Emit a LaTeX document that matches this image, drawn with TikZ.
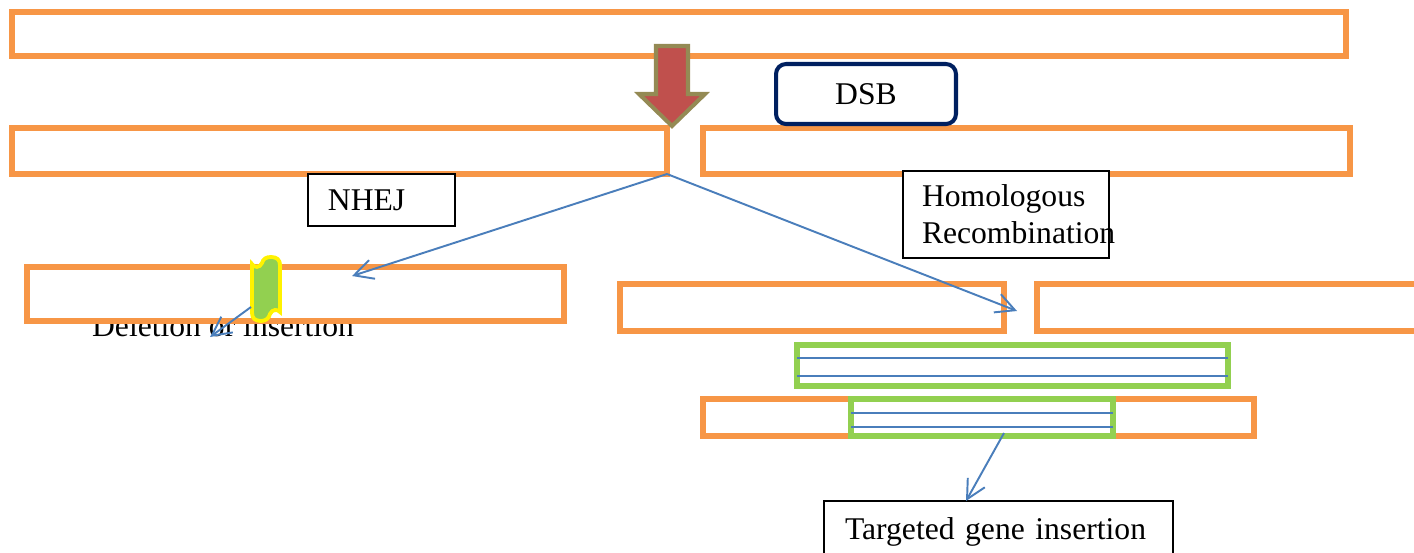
\documentclass[tikz,border=0pt]{standalone}
\usepackage{fontspec}
\setmainfont{Liberation Serif}
\usetikzlibrary{arrows.meta,fit}

\definecolor{strandorange}{HTML}{F79646}
\definecolor{donorgreen}{HTML}{92D050}
\definecolor{linkblue}{HTML}{4A7EBB}
\definecolor{cutred}{HTML}{C0504D}
\definecolor{cutolive}{HTML}{948A54}
\definecolor{dsbnavy}{HTML}{002060}

\newcommand\diagfont{\fontsize{18pt}{21pt}\selectfont}

\tikzset{
  strand/.style={draw=strandorange, line width=3pt, inner sep=0pt, outer sep=0pt},
  donor/.style={draw=donorgreen, line width=3pt, inner sep=0pt, outer sep=0pt},
  helix/.style={linkblue, line width=0.9pt},
  route/.style={linkblue, line width=1.1pt, -{Straight Barb[length=3.8mm,width=3.9mm]}},
  labelbox/.style={draw=black, line width=0.8pt, fill=white, align=left,
    anchor=north west, outer sep=0pt, font=\diagfont},
}

\begin{document}
\begin{tikzpicture}[x=0.02cm, y=-0.02cm]
  \useasboundingbox (0,0) rectangle (1414,552);

  % Intact DNA
  \node[strand, fit={(12,12) (1346,56)}] (dna) {};

  % Cut DNA after the double strand break
  \node[strand, fit={(12,128) (667,174)}] (cutleft) {};
  \node[strand, fit={(703,128) (1350,174)}] (cutright) {};

  % Break arrow
  \filldraw[fill=cutred, draw=cutolive, line width=2.3pt, line join=miter]
    (656,46) -- (688,46) -- (688,94) -- (705,94) -- (672,126) -- (639,94) -- (656,94) -- cycle;

  \node[draw=dsbnavy, line width=2.3pt, rounded corners=0.2cm, fill=white,
    minimum width=3.6cm, minimum height=1.2cm, inner sep=0pt, font=\diagfont] (dsb) at (866,94) {DSB};

  % Repair pathways
  \node[labelbox, minimum width=2.94cm, minimum height=1.04cm, inner xsep=0.4cm,
    text width=2.14cm] (nhej) at (308,174) {NHEJ};
  \node[labelbox, minimum width=4.12cm, minimum height=1.74cm, inner xsep=0.38cm,
    text width=3.36cm] (hr) at (903,171) {Homologous\\\mbox{Recombination}};

  % - NHEJ product (label cut off by its box)
  \begin{scope}
    \clip (0,322) rectangle (600,360);
    \node[font=\diagfont, anchor=base] (indeltext) at (223,336) {Deletion or insertion};
  \end{scope}
  \node[strand, fit={(27,267) (564,321)}] (nhejdna) {};
  \filldraw[fill=donorgreen, draw=yellow, line width=2.2pt]
    (252,264) .. controls (254,268) and (260,268) .. (262,263)
    .. controls (263,259) and (266,257) .. (271,257)
    .. controls (277,257) and (280,260) .. (280,265)
    -- (280,312)
    .. controls (278,309) and (272,309) .. (270,314)
    .. controls (269,318) and (266,321) .. (261,321)
    .. controls (255,321) and (252,318) .. (252,313) -- cycle;
  \coordinate (indelout) at (251,307);
  \coordinate (indeltip) at (210,337);

  % - HR template and product
  \node[strand, fit={(620,284) (1004,331)}] (hrleft) {};
  \node[strand, fit={(1037,284) (1440,331)}] (hrright) {};
  \node[donor, fit={(797,345) (1228,386)}] (template) {};
  \foreach \y in {358,376}
    \draw[helix] (797,\y) -- (1228,\y);
  \node[strand, fit={(703,399) (1254,436)}] (hrdna) {};
  \node[donor, fit={(851,399) (1113,436)}] (insert) {};
  \foreach \y in {413,427}
    \draw[helix] (851,\y) -- (1113,\y);

  \node[labelbox, minimum width=6.98cm, minimum height=1.22cm, inner xsep=0.42cm,
    text width=6.14cm] (targeted) at (824,501) {Targeted gene insertion};

  % Connectors
  \coordinate (nhejtip) at (352,276);
  \coordinate (hrtip) at (1017,311);
  \coordinate (insertout) at (1004,433);
  \draw[route] (cutleft.south east) -- (nhejtip);
  \draw[route] (cutleft.south east) -- (hrtip);
  \draw[route] (indelout) -- (indeltip);
  \draw[route] (insertout) -- (targeted.north west -| 966,0);
\end{tikzpicture}
\end{document}
